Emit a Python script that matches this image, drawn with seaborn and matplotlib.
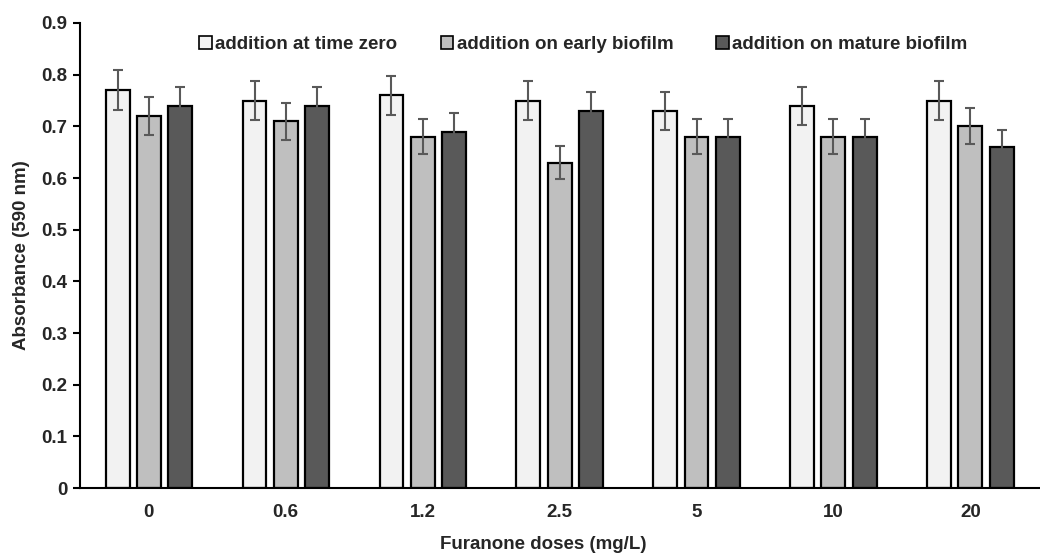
import matplotlib
matplotlib.use("Agg")
import matplotlib.pyplot as plt
import seaborn as sns
import pandas as pd
import numpy as np

doses = ["0", "0.6", "1.2", "2.5", "5", "10", "20"]
series = ["addition at time zero", "addition on early biofilm", "addition on mature biofilm"]
time_zero = [0.77, 0.75, 0.76, 0.75, 0.73, 0.74, 0.75]
early = [0.72, 0.71, 0.68, 0.63, 0.68, 0.68, 0.70]
mature = [0.74, 0.74, 0.69, 0.73, 0.68, 0.68, 0.66]
err_time_zero = [0.039, 0.038, 0.038, 0.038, 0.037, 0.037, 0.038]
err_early = [0.036, 0.036, 0.034, 0.032, 0.034, 0.034, 0.035]
err_mature = [0.037, 0.037, 0.035, 0.037, 0.034, 0.034, 0.033]
colors = ["#f2f2f2", "#bfbfbf", "#595959"]

sns.set_style("white")
plt.rcParams["font.family"] = ["Liberation Sans", "DejaVu Sans"]
plt.rcParams["font.weight"] = "bold"

rows = []
for vals, errs, s in [(time_zero, err_time_zero, series[0]), (early, err_early, series[1]), (mature, err_mature, series[2])]:
    for d, v, e in zip(doses, vals, errs):
        rows.append({"dose": d, "value": v, "err": e, "series": s})
df = pd.DataFrame(rows)

fig = plt.figure(figsize=(10.4, 5.54), dpi=100)
ax = fig.add_axes([0.077, 0.119, 0.922, 0.8395])

sns.barplot(data=df, x="dose", y="value", hue="series", order=doses, hue_order=series,
            palette=colors, width=0.68, errorbar=None, edgecolor="black", linewidth=1.6,
            ax=ax, legend=True)

bw = 0.175
bar_containers = list(ax.containers)
for si, cont in enumerate(bar_containers):
    sub = df[df.series == series[si]].set_index("dose").loc[doses]
    for patch, e, v in zip(cont.patches, sub["err"], sub["value"]):
        c = patch.get_x() + patch.get_width() / 2
        patch.set_x(c - bw / 2)
        patch.set_width(bw)
        ax.errorbar(c, v, yerr=e, fmt="none", ecolor="#595959", elinewidth=1.5,
                    capsize=3.5, capthick=1.5, zorder=5)

ax.set_xlim(-0.5, 6.5)
ax.set_ylim(0, 0.9)
ax.set_yticks(np.arange(0, 0.91, 0.1))
ax.set_yticklabels(["0"] + [f"{t:.1f}" for t in np.arange(0.1, 0.91, 0.1)])
for s in ["top", "right"]:
    ax.spines[s].set_visible(False)
for s in ["left", "bottom"]:
    ax.spines[s].set_color("black")
    ax.spines[s].set_linewidth(1.5)
ax.tick_params(axis="y", which="both", left=True, length=5, width=1.5, color="black",
               labelsize=13.5, pad=4)
ax.tick_params(axis="x", bottom=False, labelsize=13.5, pad=8)
for lab in ax.get_xticklabels() + ax.get_yticklabels():
    lab.set_fontweight("bold")
ax.set_xlabel("Furanone doses (mg/L)", fontsize=13.5, fontweight="bold", labelpad=10)
ax.xaxis.set_label_coords(0.483, -0.102)
ax.set_ylabel("Absorbance (590 nm)", fontsize=13.5, fontweight="bold", labelpad=8)

handles, labels = ax.get_legend_handles_labels()
leg = ax.legend(handles, labels, loc="upper center", bbox_to_anchor=(0.525, 1.009), ncol=3,
                frameon=False, prop={"weight": "bold", "size": 13.5}, handlelength=0.65,
                handleheight=0.75, handletextpad=0.2, columnspacing=2.3)
for h in leg.legend_handles:
    h.set_edgecolor("black")
    h.set_linewidth(1.2)

fig.savefig("out.png", dpi=100)
